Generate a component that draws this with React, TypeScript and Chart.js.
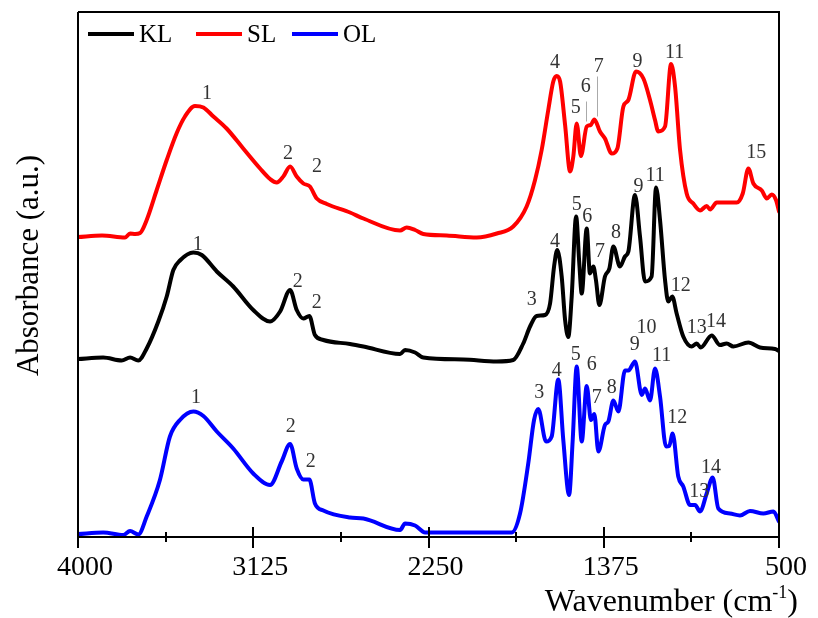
import React, { useEffect, useRef } from "react";
import { Chart, registerables } from "chart.js";

Chart.register(...registerables);

// ---------- data ----------
const seriesNames = ["KL", "SL", "OL"];
const seriesColors = ["#000000", "#ff0000", "#0000ff"];

const xMajorTicks = [4000, 3125, 2250, 1375, 500];
const xMinorTicks = [3562.5, 2687.5, 1812.5, 937.5];

const slWn = [4000,3880,3765,3740,3715,3690,3657,3607,3557,3507,3466,3416,3374,3324,3258,3175,3091,3041,3008,2975,2941,2908,2875,2842,2808,2758,2642,2575,2392,2359,2317,2276,2159,2009,1909,1827,1760,1718,1685,1652,1627,1610,1593,1568,1543,1527,1510,1489,1460,1440,1422,1394,1369,1335,1307,1277,1252,1214,1177,1144,1119,1103,1069,1039,1019,994,961,928,894,861,844,811,711,681,653,628,586,561,536,515,500];
const slAbs = [60.0,60.3,59.9,60.7,60.6,60.8,63.4,69.4,75.4,80.8,84.1,86.2,85.9,84.1,81.7,77.7,73.7,71.6,70.9,72.1,74.1,72.1,70.7,70.1,67.7,66.6,64.9,63.7,61.3,61.9,61.4,60.6,60.3,59.9,60.7,62.1,66.1,71.4,77.4,85.4,91.1,92.2,91.1,82.4,73.1,76.1,82.7,76.2,82.1,82.4,83.5,81.1,79.7,76.7,77.7,86.1,87.4,93.1,91.7,87.4,83.4,81.1,82.1,94.6,90.1,77.4,68.7,66.7,65.3,66.2,65.5,66.9,66.9,68.7,73.7,70.7,69.3,67.7,68.5,67.4,65.1];

const klWn = [4000,3874,3782,3740,3699,3657,3599,3557,3524,3491,3424,3382,3307,3225,3125,3041,2991,2941,2908,2875,2845,2817,2775,2642,2575,2392,2367,2317,2276,2076,1909,1827,1777,1743,1710,1668,1643,1623,1607,1585,1568,1552,1535,1513,1497,1485,1460,1444,1427,1414,1397,1369,1347,1327,1294,1269,1252,1219,1194,1169,1136,1114,1094,1069,1053,1033,1011,978,936,911,891,836,795,761,728,653,595,520,500];
const klAbs = [35.6,35.9,35.3,35.9,35.3,37.7,43.1,48.1,53.4,55.3,56.9,56.4,53.1,50.1,45.4,43.1,45.1,49.4,45.4,43.7,44.2,40.4,39.4,38.6,38.1,36.6,37.4,36.9,35.9,35.5,35.1,35.4,38.7,42.1,44.2,44.4,46.7,54.1,57.4,52.1,43.4,40.0,48.1,64.1,54.7,48.7,61.7,52.7,54.1,51.4,46.4,52.1,53.7,58.1,54.1,56.1,57.1,68.4,60.1,51.1,52.1,69.9,63.4,51.4,47.1,48.1,44.7,40.1,38.1,38.7,37.9,40.3,38.4,38.7,38.1,38.9,37.9,37.6,37.2];

const olWn = [4000,3874,3774,3740,3699,3657,3591,3541,3491,3424,3374,3307,3225,3125,3041,2983,2941,2908,2875,2845,2817,2775,2642,2575,2392,2367,2317,2267,2076,1835,1793,1752,1723,1702,1663,1635,1602,1577,1548,1530,1510,1485,1460,1439,1422,1402,1369,1352,1327,1302,1269,1252,1219,1185,1169,1144,1119,1094,1064,1048,1031,1003,978,944,919,894,861,831,803,745,695,645,578,528,500];
const olAbs = [0.6,0.9,0.4,1.2,0.5,4.1,11.4,20.1,23.4,25.1,24.2,21.1,17.7,12.7,10.4,15.1,18.6,13.7,11.5,11.5,6.7,5.3,3.9,3.7,1.4,2.7,2.3,0.9,0.9,0.9,4.7,14.7,23.4,25.6,19.1,20.1,31.5,19.4,8.4,19.4,34.1,19.1,30.2,23.4,24.6,17.1,22.4,23.1,27.3,25.1,33.3,33.3,35.1,28.4,29.7,27.3,33.7,28.1,18.1,18.2,20.7,12.1,10.1,6.4,6.4,5.1,8.7,11.9,5.7,4.7,4.3,5.2,4.7,5.1,3.1];

// peak labels: [text, wavenumber, absorbance]
const slLabels: [string, number, number][] = [["1",3356,88.9],["2",2951,76.9],["2",2807,74.4],["4",1618,95.1],["5",1515,86.1],["6",1465,90.4],["7",1400,94.4],["9",1207,95.4],["11",1021,97.1],["15",613,77.1]];
const klLabels: [string, number, number][] = [["1",3402,58.7],["2",2903,51.4],["2",2808,47.1],["3",1735,47.7],["4",1618,59.4],["5",1510,66.7],["6",1457,64.4],["7",1394,57.4],["8",1314,61.1],["9",1202,70.4],["11",1119,72.6],["12",991,50.5],["13",911,42.1],["14",814,43.3]];
const olLabels: [string, number, number][] = [["1",3411,28.2],["2",2938,22.4],["2",2838,15.3],["3",1697,29.1],["4",1610,33.5],["5",1515,36.7],["6",1435,34.7],["7",1410,28.1],["8",1335,30.2],["9",1220,38.7],["10",1162,42.1],["11",1086,36.6],["12",1008,24.2],["13",898,9.4],["14",839,14.2]];

// thin leader lines in SL (peaks 6 and 7)
const slLeaderWn = [1462, 1410];
const slLeaderTop = [87.1, 92.1];
const slLeaderBottom = [83.1, 84.1];

const xTitle = "Wavenumber (cm";
const xTitleSup = "-1";
const yTitle = "Absorbance (a.u.)";

const zip = (xs: number[], ys: number[]) => xs.map((x, i) => ({ x, y: ys[i] }));

const SERIF = '"Liberation Serif", "Times New Roman", serif';

const decorPlugin = {
  id: "decor",
  afterDatasetsDraw(chart: any) {
    const { ctx, chartArea: a, scales } = chart;
    const xs = scales.x;
    const ys = scales.y;
    ctx.save();
    ctx.strokeStyle = "#000";
    ctx.lineWidth = 2;
    ctx.lineCap = "butt";
    // frame
    ctx.beginPath();
    ctx.moveTo(a.left, a.top);
    ctx.lineTo(a.right, a.top);
    ctx.lineTo(a.right, a.bottom);
    ctx.moveTo(a.left, a.top);
    ctx.lineTo(a.left, a.bottom);
    ctx.lineTo(a.right, a.bottom);
    ctx.stroke();
    // ticks
    ctx.beginPath();
    xMajorTicks.forEach((v) => {
      const p = Math.round(xs.getPixelForValue(v));
      ctx.moveTo(p, a.bottom - 10);
      ctx.lineTo(p, a.bottom + 11);
    });
    xMinorTicks.forEach((v) => {
      const p = Math.round(xs.getPixelForValue(v));
      ctx.moveTo(p, a.bottom - 5);
      ctx.lineTo(p, a.bottom + 5);
    });
    ctx.stroke();
    // tick labels
    ctx.fillStyle = "#000";
    ctx.font = `28px ${SERIF}`;
    ctx.textAlign = "center";
    ctx.textBaseline = "alphabetic";
    xMajorTicks.forEach((v) => {
      const p = xs.getPixelForValue(v);
      const t = String(v);
      const w = ctx.measureText(t).width;
      let cx = p + 7;
      if (cx + w / 2 > chart.width - 2) cx = chart.width - 2 - w / 2;
      ctx.fillText(t, cx, 575);
    });
    // x title
    ctx.textAlign = "left";
    ctx.font = `32px ${SERIF}`;
    const w1 = ctx.measureText(xTitle).width;
    ctx.font = `18px ${SERIF}`;
    const w2 = ctx.measureText(xTitleSup).width;
    ctx.font = `32px ${SERIF}`;
    const w3 = ctx.measureText(")").width;
    const startX = chart.width - 20 - (w1 + w2 + w3);
    ctx.fillText(xTitle, startX, 611);
    ctx.font = `18px ${SERIF}`;
    ctx.fillText(xTitleSup, startX + w1, 598);
    ctx.font = `32px ${SERIF}`;
    ctx.fillText(")", startX + w1 + w2, 611);
    // y title
    ctx.save();
    ctx.translate(38, (a.top + a.bottom) / 2 - 9);
    ctx.rotate(-Math.PI / 2);
    ctx.textAlign = "center";
    ctx.font = `31px ${SERIF}`;
    ctx.fillText(yTitle, 0, 0);
    ctx.restore();
    // legend
    const legendX = [88, 196, 292];
    ctx.font = `25px ${SERIF}`;
    ctx.textAlign = "left";
    seriesNames.forEach((n, i) => {
      ctx.strokeStyle = seriesColors[i];
      ctx.lineWidth = 4;
      ctx.beginPath();
      ctx.moveTo(legendX[i], 34);
      ctx.lineTo(legendX[i] + 46, 34);
      ctx.stroke();
      ctx.fillStyle = "#000";
      ctx.fillText(n, legendX[i] + 51, 42);
    });
    // peak labels
    ctx.fillStyle = "#333";
    ctx.font = `20px ${SERIF}`;
    ctx.textAlign = "center";
    [slLabels, klLabels, olLabels].forEach((arr) => {
      arr.forEach(([t, wn, ab]) => {
        ctx.fillText(t, xs.getPixelForValue(wn), ys.getPixelForValue(ab) + 6.8);
      });
    });
    // leader lines
    ctx.strokeStyle = "#aaa";
    ctx.lineWidth = 1;
    ctx.beginPath();
    slLeaderWn.forEach((wn, i) => {
      const p = Math.round(xs.getPixelForValue(wn)) + 0.5;
      ctx.moveTo(p, ys.getPixelForValue(slLeaderTop[i]));
      ctx.lineTo(p, ys.getPixelForValue(slLeaderBottom[i]));
    });
    ctx.stroke();
    ctx.restore();
  },
};

export default function App() {
  const ref = useRef<HTMLCanvasElement>(null);
  useEffect(() => {
    document.body.style.margin = "0";
    const chart = new Chart(ref.current!, {
      type: "line",
      data: {
        datasets: [
          { label: "KL", data: zip(klWn, klAbs), borderColor: seriesColors[0] },
          { label: "SL", data: zip(slWn, slAbs), borderColor: seriesColors[1] },
          { label: "OL", data: zip(olWn, olAbs), borderColor: seriesColors[2] },
        ],
      },
      options: {
        animation: false,
        responsive: false,
        devicePixelRatio: 1,
        layout: { padding: { left: 78, top: 12, right: 39, bottom: 81 } },
        plugins: { legend: { display: false }, tooltip: { enabled: false } },
        elements: {
          point: { radius: 0 },
          line: { borderWidth: 4, cubicInterpolationMode: "monotone", fill: false, borderJoinStyle: "round", borderCapStyle: "round" },
        },
        scales: {
          x: { type: "linear", reverse: true, min: 500, max: 4000, display: false },
          y: { type: "linear", min: 0, max: 105, display: false },
        },
      },
      plugins: [decorPlugin],
    });
    return () => chart.destroy();
  }, []);
  return (
    <div style={{ width: 818, height: 618, position: "relative" }}>
      <canvas ref={ref} width={818} height={618} style={{ display: "block" }} />
    </div>
  );
}
